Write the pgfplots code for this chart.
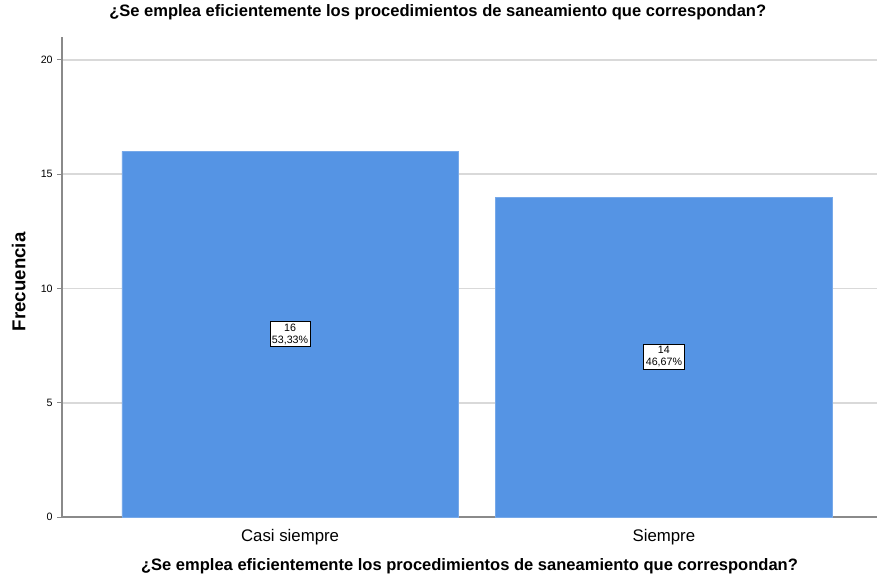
\documentclass[border=0pt]{standalone}
\usepackage{fontspec}
\setmainfont{Liberation Sans}
\usepackage{pgfplots}
\pgfplotsset{compat=1.18}
\definecolor{barblue}{HTML}{5594E4}
\definecolor{gridgray}{HTML}{D9D9D9}
\definecolor{axisgray}{HTML}{8A8A8A}

\begin{document}
\begin{tikzpicture}
\useasboundingbox (-46.5pt,-49.5pt) rectangle (611.25pt,387.75pt);
\begin{axis}[scale only axis,
width=611.25pt,
height=360pt,
xmin=-0.61, xmax=1.57,
ymin=0, ymax=21,
axis lines=left,
axis line style={-, axisgray, line width=0.8pt},
ymajorgrids,
grid style={gridgray, line width=1.3pt},
xtick={0,1},
xticklabels={Casi siempre,Siempre},
ytick={0,5,10,15,20},
x tick label style={font=\fontsize{12.6}{14}\selectfont, yshift=-2pt},
y tick label style={font=\fontsize{8}{9}\selectfont},
xtick style={draw=none},
ytick style={axisgray, line width=0.6pt},
tick align=outside,
major tick length=3.5pt,
/pgf/number format/assume math mode=true,
title={¿Se emplea eficientemente los procedimientos de saneamiento que correspondan?},
title style={at={(0.461,1)}, anchor=center, yshift=12.5pt, font=\bfseries\fontsize{12.4}{14}\selectfont},
xlabel={¿Se emplea eficientemente los procedimientos de saneamiento que correspondan?},
xlabel style={at={(0.5,0)}, anchor=center, yshift=-37pt, font=\bfseries\fontsize{12.4}{14}\selectfont},
ylabel={Frecuencia},
ylabel style={at={(-0.053,0.49)}, anchor=center, font=\bfseries\fontsize{14}{16}\selectfont},
]
\addplot[ybar, bar width=0.9, fill=barblue, draw=barblue!80!white] coordinates {(0,16) (1,14)};
\addplot[only marks, mark=none,
  point meta=explicit symbolic,
  nodes near coords,
  nodes near coords align=center,
  every node near coord/.style={draw=black, line width=0.5pt, fill=white, align=center, inner sep=1.5pt, font=\fontsize{8}{9}\selectfont}]
  coordinates {(0,8) [{16\\53,33\%}] (1,7) [{14\\46,67\%}]};
\end{axis}
\end{tikzpicture}
\end{document}
